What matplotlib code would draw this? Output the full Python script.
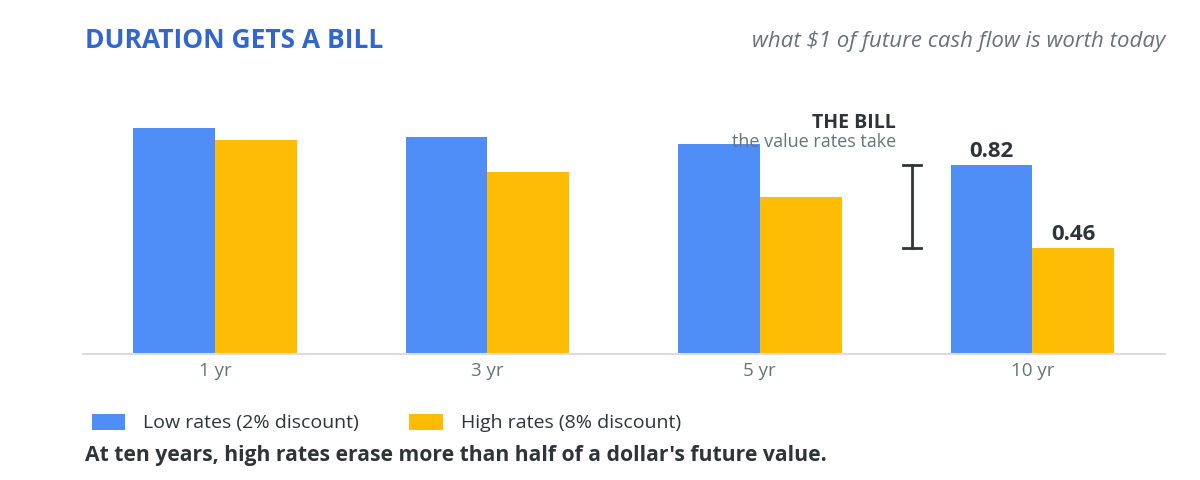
import numpy as np
import matplotlib.pyplot as plt

plt.rcParams['font.family'] = ['Open Sans', 'DejaVu Sans']

# discounted value of $1 received in the future
horizons = ["1 yr", "3 yr", "5 yr", "10 yr"]
low_rates = [0.98, 0.94, 0.91, 0.82]
high_rates = [0.93, 0.79, 0.68, 0.46]

BLUE = "#4F8EF7"
YELLOW = "#FFBC05"
DARK = "#2F3436"
GRAY = "#6B7275"

fig = plt.figure(figsize=(12, 4.8), dpi=100)
ax = fig.add_axes([83 / 1200, 126 / 480, 1082 / 1200, 264 / 480])

x = np.arange(len(horizons))
w = 0.3
ax.bar(x - w / 2, low_rates, w, color=BLUE, label="Low rates (2% discount)")
ax.bar(x + w / 2, high_rates, w, color=YELLOW, label="High rates (8% discount)")

ax.set_xlim(-0.484, 3.487)
ax.set_ylim(0, 1.145)
ax.set_xticks(x)
ax.set_xticklabels(horizons, fontsize=13.5, color=GRAY)
ax.tick_params(axis="x", length=0, pad=6)
ax.set_yticks([])
for s in ["top", "right", "left"]:
    ax.spines[s].set_visible(False)
ax.spines["bottom"].set_color("#DDDDDD")
ax.spines["bottom"].set_linewidth(1.5)

# value labels on the 10 yr pair
ax.text(x[-1] - w / 2, low_rates[-1] + 0.012, f"{low_rates[-1]:.2f}", ha="center", va="bottom",
        fontsize=16, fontweight="bold", color=DARK)
ax.text(x[-1] + w / 2, high_rates[-1] + 0.012, f"{high_rates[-1]:.2f}", ha="center", va="bottom",
        fontsize=16, fontweight="bold", color=DARK)

# the bill bracket
bx = 2.558
ax.plot([bx, bx], [high_rates[-1], low_rates[-1]], color=DARK, lw=2)
for yv in (high_rates[-1], low_rates[-1]):
    ax.plot([bx - 0.033, bx + 0.033], [yv, yv], color=DARK, lw=2)
ax.text(2.5, 1.0, "THE BILL", ha="right", va="center", fontsize=14, fontweight="bold", color=DARK)
ax.text(2.5, 0.92, "the value rates take", ha="right", va="center", fontsize=13, color=GRAY)

fig.text(85 / 1200, 1 - 40 / 480, "DURATION GETS A BILL", fontsize=19, fontweight="bold",
         color="#3366CC", va="center", ha="left")
fig.text(1165 / 1200, 1 - 42 / 480, "what $1 of future cash flow is worth today", fontsize=16,
         style="italic", color=GRAY, va="center", ha="right")

fig.legend(loc="center left", bbox_to_anchor=(92 / 1200, 1 - 423 / 480), ncol=2, frameon=False,
           fontsize=14, handlelength=1.7, handleheight=0.9, handletextpad=0.93, columnspacing=2.6,
           labelcolor=DARK, borderaxespad=0, borderpad=0)
fig.text(85 / 1200, 1 - 455 / 480, "At ten years, high rates erase more than half of a dollar's future value.",
         fontsize=15.2, fontweight="bold", color=DARK, va="center", ha="left")

fig.savefig("out.png", dpi=100)
